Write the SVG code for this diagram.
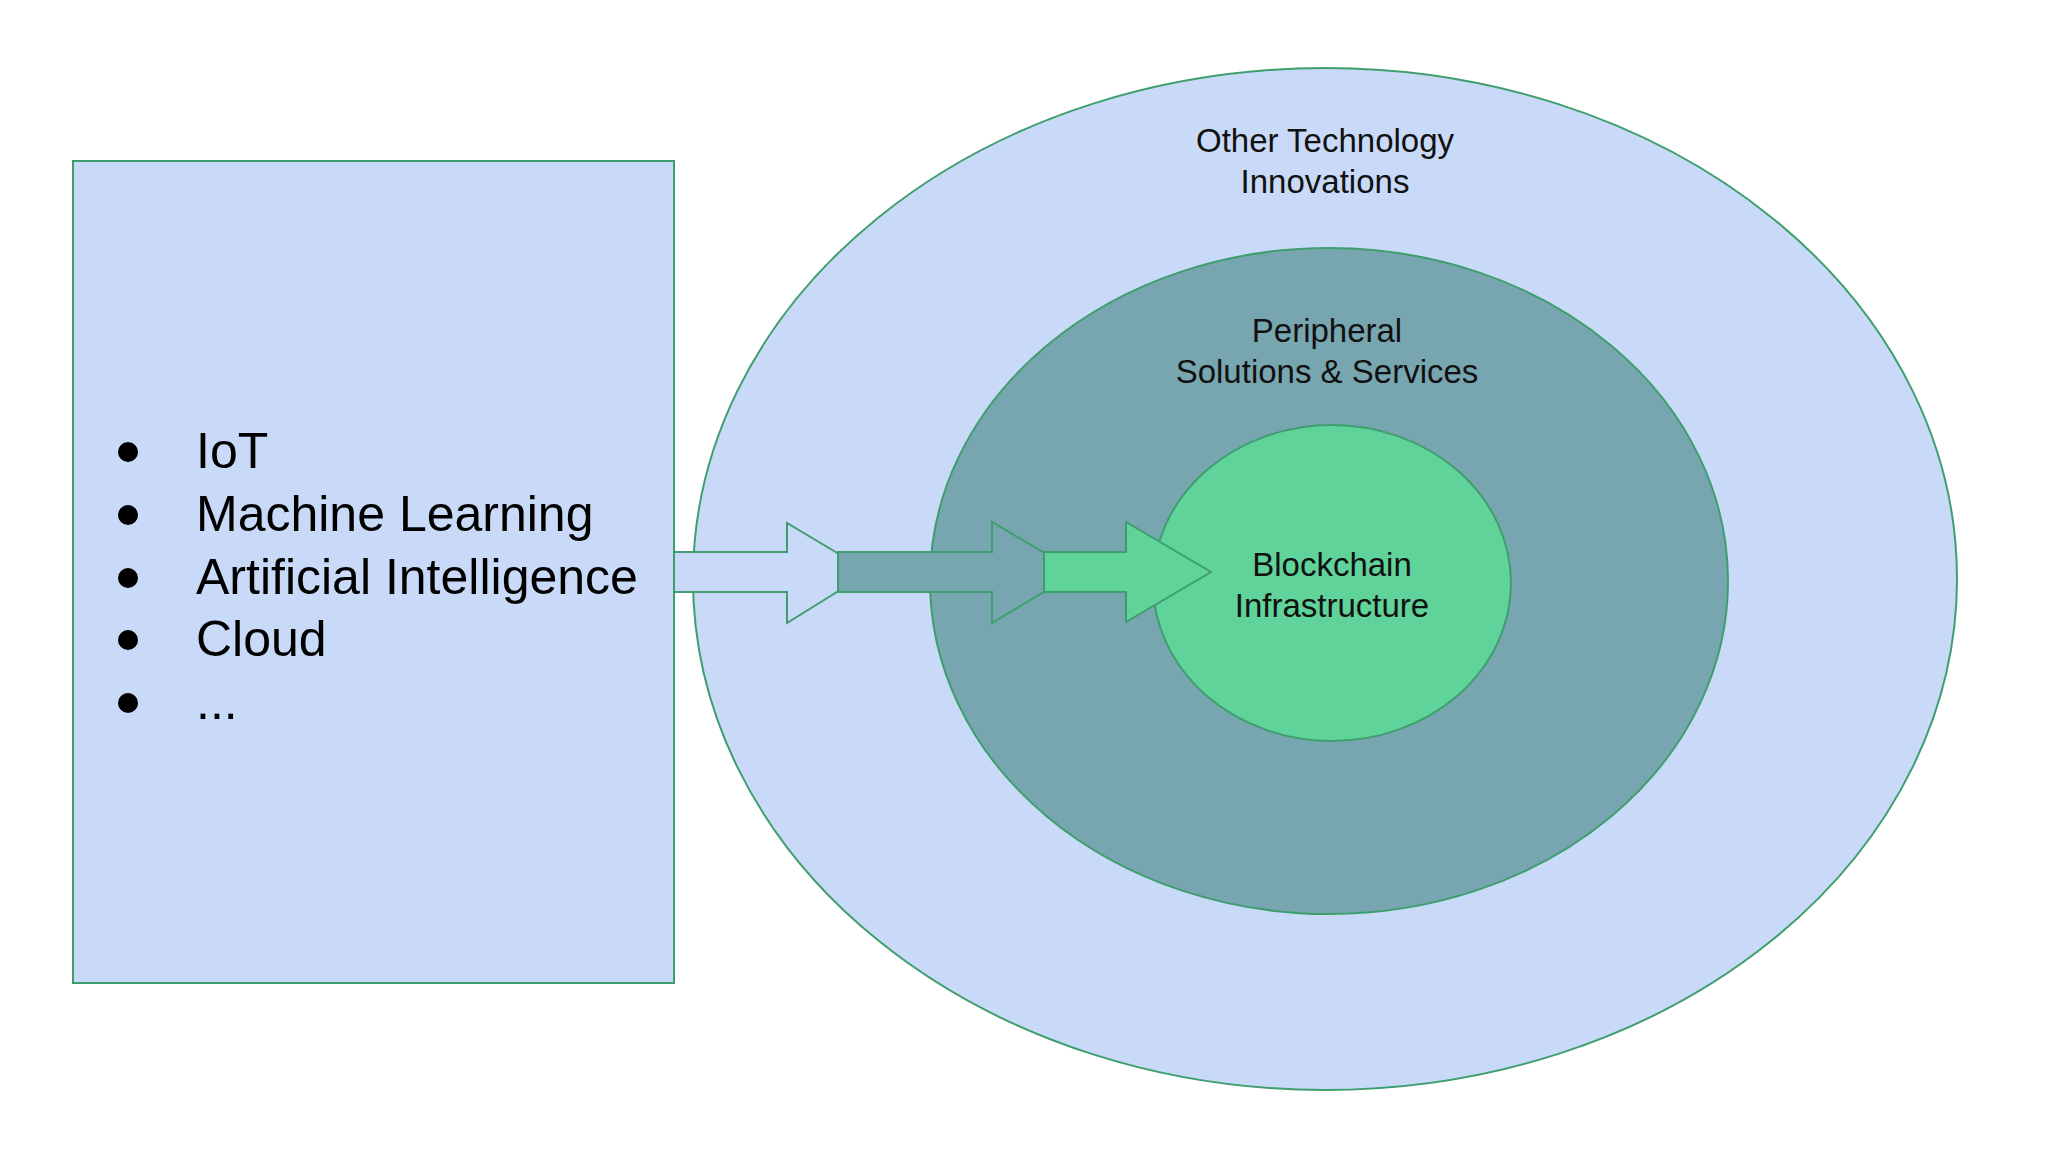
<svg xmlns="http://www.w3.org/2000/svg" width="2048" height="1152" viewBox="0 0 2048 1152">
<style>
.s{stroke:#3f9e6e;stroke-width:2}
.l{font-family:"Liberation Sans",Arial,sans-serif;font-size:33px;fill:#111;text-anchor:middle}
.b{font-family:"Liberation Sans",Arial,sans-serif;font-size:50px;fill:#000}
</style>
<rect width="2048" height="1152" fill="#fff"/>
<g id="list-box">
<rect class="s" x="73" y="161" width="601" height="822" fill="#c9daf8"/>
<g class="b">
<circle cx="128" cy="452" r="10"/><text x="196" y="468">IoT</text>
<circle cx="128" cy="515" r="10"/><text x="196" y="531">Machine Learning</text>
<circle cx="128" cy="578" r="10"/><text x="196" y="594">Artificial Intelligence</text>
<circle cx="128" cy="640" r="10"/><text x="196" y="656">Cloud</text>
<circle cx="128" cy="703" r="10"/><text x="196" y="719">...</text>
</g>
</g>
<g id="outer">
<ellipse class="s" cx="1325" cy="579" rx="632" ry="511" fill="#c9daf8"/>
<text class="l" x="1325" y="152">Other Technology</text>
<text class="l" x="1325" y="193">Innovations</text>
</g>
<g id="middle">
<ellipse class="s" cx="1329" cy="581" rx="399" ry="333" fill="#78a6b0"/>
<text class="l" x="1327" y="342">Peripheral</text>
<text class="l" x="1327" y="383">Solutions &amp; Services</text>
</g>
<g id="inner">
<ellipse class="s" cx="1332" cy="583" rx="179" ry="158" fill="#5fd39a"/>
<text class="l" x="1332" y="576">Blockchain</text>
<text class="l" x="1332" y="617">Infrastructure</text>
</g>
<g id="connectors">
<polygon class="s" fill="#c9daf8" points="674,552 787,552 787,523 869,572 787,623 787,592 674,592"/>
<polygon class="s" fill="#78a6b0" points="838,552 992,552 992,522 1077,572 992,623 992,592 838,592"/>
<polygon class="s" fill="#5fd39a" points="1044,552 1126,552 1126,522 1211,572 1126,622 1126,592 1044,592"/>
</g>
</svg>
